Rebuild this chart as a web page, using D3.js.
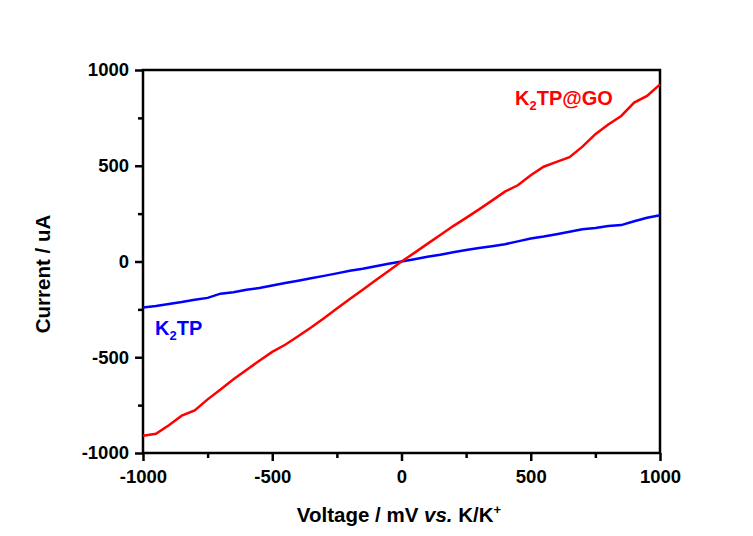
<!DOCTYPE html>
<html lang="en">
<head>
<meta charset="utf-8">
<script src="https://cdn.jsdelivr.net/npm/d3@7"></script>
<style>
  body { margin: 0; background: #fff; }
  text { font-family: "Liberation Sans", Arial, sans-serif; font-weight: bold; }
</style>
</head>
<body>
<svg width="753" height="536"></svg>
<script>
// voltage (mV) sample points
var voltage = [-1000, -950, -900, -850, -800, -750, -700, -650, -600, -550, -500,
               -450, -400, -350, -300, -250, -200, -150, -100, -50, 0,
               50, 100, 150, 200, 250, 300, 350, 400, 450, 500,
               550, 600, 650, 700, 750, 800, 850, 900, 950, 1000];

// current (uA) for K2TP@GO
var currentGO = [-910, -900, -855, -805, -778, -720, -668, -615, -567, -518, -472,
                 -435, -390, -345, -296, -246, -196, -148, -98, -50, 0,
                 45, 92, 138, 185, 228, 272, 318, 365, 398, 450,
                 495, 520, 545, 600, 665, 715, 760, 830, 865, 925];

// current (uA) for K2TP
var currentTP = [-240, -232, -222, -212, -200, -190, -168, -160, -148, -138, -125,
                 -112, -100, -88, -75, -62, -48, -38, -25, -12, 0,
                 12, 25, 35, 48, 60, 70, 80, 90, 105, 120,
                 130, 142, 155, 168, 175, 185, 190, 210, 228, 242];

var xTicks = [-1000, -500, 0, 500, 1000];
var yTicks = [-1000, -500, 0, 500, 1000];
var minorTicks = [-750, -250, 250, 750];

var svg = d3.select("svg");
var mLeft = 143, mRight = 660, mTop = 70, mBottom = 453;

var x = d3.scaleLinear().domain([-1000, 1000]).range([mLeft, mRight]);
var y = d3.scaleLinear().domain([-1000, 1000]).range([mBottom, mTop]);
var fmt = function(d) { return String(d); };

// frame
svg.append("rect")
    .attr("x", mLeft).attr("y", mTop)
    .attr("width", mRight - mLeft).attr("height", mBottom - mTop)
    .attr("fill", "none").attr("stroke", "#000").attr("stroke-width", 2.5);

// bottom axis
var xAxis = svg.append("g")
    .attr("transform", "translate(0," + mBottom + ")")
    .call(d3.axisBottom(x).tickValues(xTicks).tickSize(8).tickPadding(6).tickFormat(fmt));
svg.append("g")
    .attr("transform", "translate(0," + mBottom + ")")
    .call(d3.axisBottom(x).tickValues(minorTicks).tickSize(5).tickFormat(""));

// left axis
var yAxis = svg.append("g")
    .attr("transform", "translate(" + mLeft + ",0)")
    .call(d3.axisLeft(y).tickValues(yTicks).tickSize(8).tickPadding(6).tickFormat(fmt));
svg.append("g")
    .attr("transform", "translate(" + mLeft + ",0)")
    .call(d3.axisLeft(y).tickValues(minorTicks).tickSize(5).tickFormat(""));

svg.selectAll(".domain").remove();
svg.selectAll(".tick line").attr("stroke", "#000").attr("stroke-width", 2.5);
svg.selectAll(".tick text")
    .attr("fill", "#000")
    .style("font-size", "18.5px")
    .style("font-family", "'Liberation Sans', Arial, sans-serif")
    .style("font-weight", "bold");
xAxis.selectAll(".tick text").attr("y", 30).attr("dy", 0);

// lines
var line = d3.line()
    .x(function(d, i) { return x(voltage[i]); })
    .y(function(d) { return y(d); });

svg.append("path")
    .datum(currentTP)
    .attr("d", line)
    .attr("fill", "none").attr("stroke", "#0000ff").attr("stroke-width", 2.5);

svg.append("path")
    .datum(currentGO)
    .attr("d", line)
    .attr("fill", "none").attr("stroke", "#ff0000").attr("stroke-width", 2.5);

// series labels
var lab1 = svg.append("text").attr("x", 515).attr("y", 105)
    .attr("fill", "#ff0000").style("font-size", "20px");
lab1.append("tspan").text("K");
lab1.append("tspan").attr("dy", 5).style("font-size", "13px").text("2");
lab1.append("tspan").attr("dy", -5).text("TP@GO");

var lab2 = svg.append("text").attr("x", 155).attr("y", 335)
    .attr("fill", "#0000ff").style("font-size", "20px");
lab2.append("tspan").text("K");
lab2.append("tspan").attr("dy", 5).style("font-size", "13px").text("2");
lab2.append("tspan").attr("dy", -5).text("TP");

// axis titles
svg.append("text")
    .attr("transform", "translate(50,274) rotate(-90)")
    .attr("text-anchor", "middle")
    .style("font-size", "20.5px")
    .text("Current / uA");

var xt = svg.append("text")
    .attr("x", 399).attr("y", 522)
    .attr("text-anchor", "middle")
    .style("font-size", "20.5px");
xt.append("tspan").text("Voltage / mV ");
xt.append("tspan").style("font-style", "italic").text("vs.");
xt.append("tspan").text(" K/K");
xt.append("tspan").attr("dy", -8).style("font-size", "13px").text("+");
</script>
</body>
</html>
